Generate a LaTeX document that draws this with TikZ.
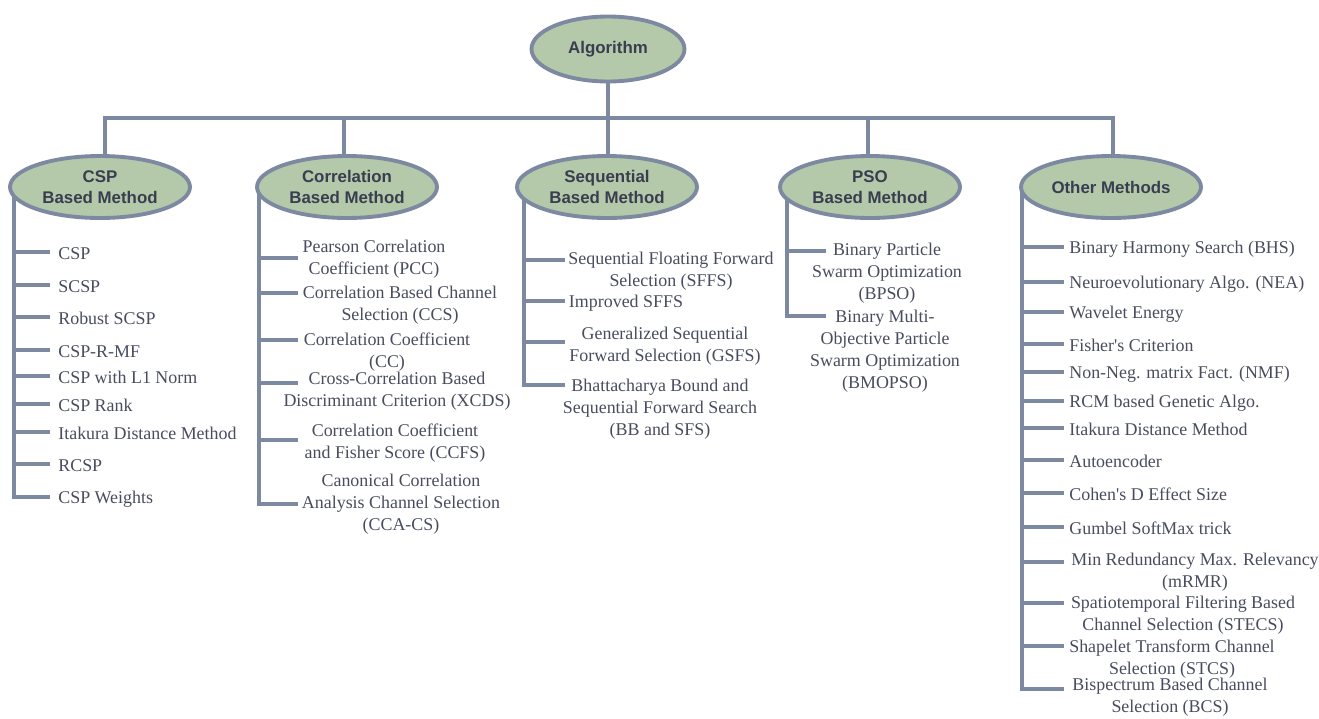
\documentclass[tikz,border=0pt]{standalone}
\usepackage{fontspec}
\setmainfont{Liberation Serif}
\setsansfont{Liberation Sans}
\usetikzlibrary{shapes.geometric}
\pgfdeclarelayer{bg}
\pgfsetlayers{bg,main}
\definecolor{lineblue}{RGB}{124,137,160}
\definecolor{sage}{RGB}{179,201,170}
\definecolor{headink}{RGB}{58,61,80}
\definecolor{leafink}{RGB}{72,76,94}

\begin{document}
\begin{tikzpicture}[x=0.02cm, y=-0.02cm,
  method/.style={ellipse, draw=lineblue, line width=2.2pt, fill=sage,
    minimum width=3.6cm, minimum height=1.24cm, inner sep=0pt, align=center,
    text=headink, font=\sffamily\bfseries\fontsize{9.6}{11.9}\selectfont},
  leaf/.style={align=center, inner sep=0pt, text=leafink, yshift=-0.035cm,
    font=\fontsize{10.2}{12.5}\selectfont},
  branch/.style={draw=lineblue, line width=2.3pt},
  bar/.style={branch, line cap=rect}]
\useasboundingbox (0,0) rectangle (1319,718);

% root and the five families
\node[method, minimum width=3.06cm, minimum height=1.3cm] (algo) at (608,49) {Algorithm};
\node[method] (csp) at (100,187) {CSP\\Based Method};
\node[method] (corr) at (347,187) {Correlation\\Based Method};
\node[method] (seq) at (607,187) {Sequential\\Based Method};
\node[method] (pso) at (870,187) {PSO\\Based Method};
\node[method] (other) at (1111,187) {Other Methods};
\coordinate (bus) at (608,118);

\coordinate (cspbar) at (14,497);
\coordinate (corrbar) at (259,504);
\coordinate (seqbar) at (524,385);
\coordinate (psobar) at (787,316);
\coordinate (otherbar) at (1022,689);

\begin{pgfonlayer}{bg}
\draw[branch] (algo) -- (bus);
\foreach \m/\dx in {csp/5,corr/-3,seq/1,pso/-2,other/2}
  \draw[branch] ([xshift=\dx*0.02cm]\m.center) |- (bus);
\foreach \m in {csp,corr,seq,pso,other}
  \draw[bar] (\m.center -| \m bar) -- (\m bar);
\end{pgfonlayer}

% CSP based
\foreach \ty/\txt [count=\i] in {252/CSP, 285/SCSP, 317/Robust SCSP, 350/CSP-R-MF,
    376/CSP with L1 Norm, 404/CSP Rank, 432/Itakura Distance Method, 464/RCSP, 497/CSP Weights} {
  \node[leaf, anchor=west] (csp\i) at (58,\ty) {\txt};
  \draw[branch] (cspbar |- 0,\ty) -- ([xshift=-0.16cm]csp\i.west |- 0,\ty);
}

% correlation based
\foreach \ty/\tx/\tyc/\txt [count=\i] in {
    258/374/257/{Pearson Correlation\\Coefficient (PCC)},
    293/400/303/{Correlation Based Channel\\Selection (CCS)},
    340/387/350/{Correlation Coefficient\\(CC)},
    383/397/389/{Cross-Correlation Based\\Discriminant Criterion (XCDS)},
    440/395/441/{Correlation Coefficient\\and Fisher Score (CCFS)},
    504/401/502/{Canonical Correlation\\Analysis Channel Selection\\(CCA-CS)}} {
  \node[leaf] (corr\i) at (\tx,\tyc) {\txt};
  \coordinate (corr\i-t) at (298,\ty);
  \draw[branch] (corrbar |- corr\i-t) -- (corr\i-t);
}

% sequential based
\foreach \ty/\tx/\tyc/\txt [count=\i] in {
    260/671/269/{Sequential Floating Forward\\Selection (SFFS)},
    301/626/301/{Improved SFFS},
    342/665/344/{Generalized Sequential\\Forward Selection (GSFS)},
    385/660/407/{Bhattacharya Bound and\\Sequential Forward Search\\(BB and SFS)}} {
  \node[leaf] (seq\i) at (\tx,\tyc) {\txt};
  \coordinate (seq\i-t) at (565,\ty);
  \draw[branch] (seqbar |- seq\i-t) -- (seq\i-t);
}

% PSO based
\foreach \ty/\tx/\tyc/\txt [count=\i] in {
    251/887/271/{Binary Particle\\Swarm Optimization\\(BPSO)},
    316/885/349/{Binary Multi-\\Objective Particle\\Swarm Optimization\\(BMOPSO)}} {
  \node[leaf] (pso\i) at (\tx,\tyc) {\txt};
  \coordinate (pso\i-t) at (826,\ty);
  \draw[branch] (psobar |- pso\i-t) -- (pso\i-t);
}

% other methods
\foreach \ty/\txt [count=\i] in {247/Binary Harmony Search (BHS), 282/Neuroevolutionary Algo. (NEA),
    312/Wavelet Energy, 344/Fisher{\textquotesingle}s Criterion, 372/Non-Neg. matrix Fact. (NMF),
    401/RCM based Genetic Algo., 428/Itakura Distance Method, 460/Autoencoder,
    493/Cohen{\textquotesingle}s D Effect Size, 527/Gumbel SoftMax trick} {
  \node[leaf, anchor=west] (other\i) at (1069,\ty) {\txt};
  \draw[branch] (otherbar |- 0,\ty) -- ([xshift=-0.1cm]other\i.west |- 0,\ty);
}
\foreach \ty/\tx/\tyc/\txt [count=\i from 11] in {
    562/1195/570/{Min Redundancy Max. Relevancy\\(mRMR)},
    603/1183/613/{Spatiotemporal Filtering Based\\Channel Selection (STECS)},
    646/1172/657/{Shapelet Transform Channel\\Selection (STCS)},
    689/1170/695/{Bispectrum Based Channel\\Selection (BCS)}} {
  \node[leaf] (other\i) at (\tx,\tyc) {\txt};
  \coordinate (other\i-t) at (1064,\ty);
  \draw[branch] (otherbar |- other\i-t) -- (other\i-t);
}
\end{tikzpicture}
\end{document}
